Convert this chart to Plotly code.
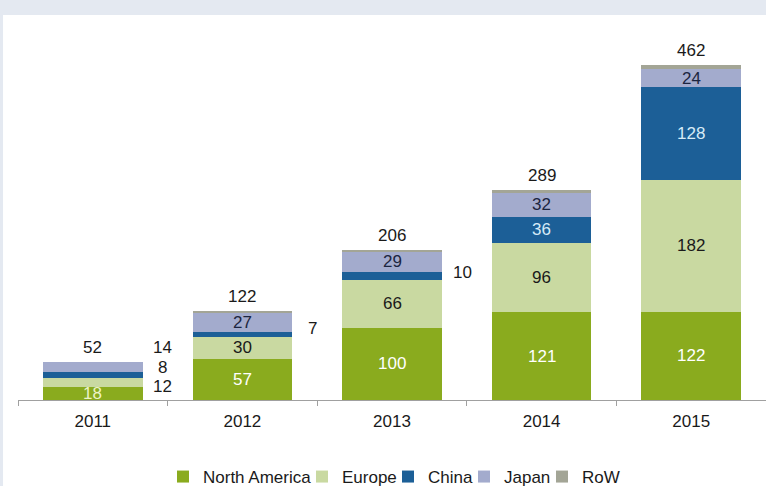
import plotly.graph_objects as go

years = ["2011", "2012", "2013", "2014", "2015"]
north_america = [18, 57, 100, 121, 122]
europe = [12, 30, 66, 96, 182]
china = [8, 7, 10, 36, 128]
japan = [14, 27, 29, 32, 24]
row = [0, 1, 1, 4, 6]
totals = [52, 122, 206, 289, 462]

series = [
    ("North America", north_america, "#8aab1e", "#ffffff"),
    ("Europe", europe, "#c9d9a1", "#1a1a1a"),
    ("China", china, "#1c5f97", "#d6ebf7"),
    ("Japan", japan, "#a3abcd", "#1c2540"),
    ("RoW", row, "#a3a596", "#1a1a1a"),
]

FONT = "Liberation Sans, Arial, sans-serif"
FS = 17
L, R, T, B, W, H = 18, 0, 15, 86, 766, 486
PW = W - L - R

# legend positions (page px of the legend marker)
legend_px = [183, 322, 408, 484, 562]

fig = go.Figure()
for k, (name, vals, color, _) in enumerate(series):
    lg = "legend" if k == 0 else f"legend{k + 1}"
    fig.add_trace(go.Bar(name=name, x=years, y=vals, marker=dict(color=color, line=dict(width=0)),
                         hoverinfo="x+y+name", legend=lg))

annotations = []
# labels inside segments (outside, to the right, for the small ones)
outside = {(0, 1): -4, (0, 2): 8, (0, 3): 20, (1, 2): 6, (2, 2): 4}
cum = [0] * len(years)
for si, (name, vals, color, tcolor) in enumerate(series):
    for i, v in enumerate(vals):
        mid = cum[i] + v / 2
        if name != "RoW":
            if (i, si) in outside:
                annotations.append(dict(x=i, y=mid, xref="x", yref="y", text=str(v), showarrow=False,
                                        xshift=70, yshift=outside[(i, si)],
                                        font=dict(size=FS, color="#1a1a1a", family=FONT)))
            else:
                annotations.append(dict(x=i, y=mid, xref="x", yref="y", text=str(v), showarrow=False,
                                        font=dict(size=FS, color=("#eef3c8" if (i, si) == (0, 0) else tcolor),
                                                  family=FONT)))
        cum[i] += v
for i, t in enumerate(totals):
    annotations.append(dict(x=i, y=t, xref="x", yref="y", text=str(t), showarrow=False, yshift=15,
                            font=dict(size=FS, color="#1a1a1a", family=FONT)))

shapes = [
    dict(type="rect", xref="paper", yref="paper", x0=-0.05, x1=1.05, y0=1.0, y1=1.1,
         fillcolor="#e4e9f1", line=dict(width=0), layer="below"),
    dict(type="rect", xref="paper", yref="paper", x0=-0.05, x1=-0.02, y0=-0.3, y1=1.1,
         fillcolor="#e4e9f1", line=dict(width=0), layer="below"),
]

layout_legends = {}
for k, px in enumerate(legend_px):
    key = "legend" if k == 0 else f"legend{k + 1}"
    layout_legends[key] = dict(orientation="h", x=(px - 20 - L) / PW, xanchor="left",
                               y=(H - B - 477) / (H - T - B), yanchor="middle",
                               font=dict(size=FS, color="#1a1a1a", family=FONT),
                               itemwidth=30, bgcolor="rgba(0,0,0,0)")

fig.update_layout(
    width=W, height=H,
    margin=dict(l=L, r=R, t=T, b=B, autoexpand=False),
    barmode="stack", bargap=0.333,
    paper_bgcolor="white", plot_bgcolor="white",
    font=dict(family=FONT, size=FS, color="#1a1a1a"),
    xaxis=dict(type="category", range=[-0.5, 4.5], showline=True, linecolor="#a0a0a0", linewidth=1,
               ticks="outside", tickson="boundaries", ticklen=5, tickcolor="#a0a0a0",
               ticklabelstandoff=6,
               tickfont=dict(size=FS, color="#1a1a1a"), showgrid=False, zeroline=False),
    yaxis=dict(range=[0, 531], visible=False, showgrid=False, zeroline=False),
    annotations=annotations,
    shapes=shapes,
    showlegend=True,
    **layout_legends,
)

fig.write_html("out.html", config={"displayModeBar": False},
               post_script="document.body.style.margin='0';")
